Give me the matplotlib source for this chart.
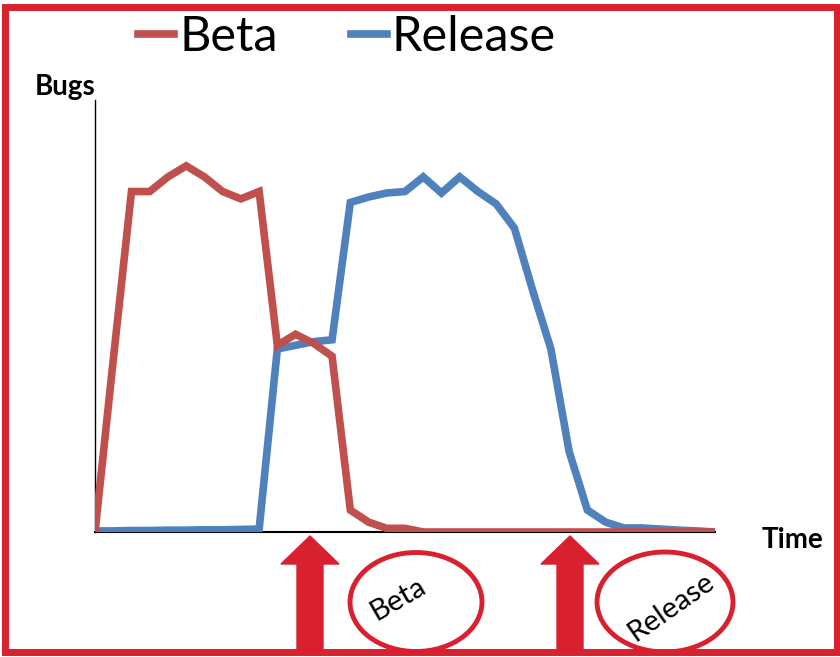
import matplotlib
matplotlib.use("Agg")
import matplotlib.pyplot as plt
from matplotlib import patches

plt.rcParams['font.family'] = ['Lato', 'DejaVu Sans']

# bug counts per time step (peak ~100)
beta = [0, 47, 93, 93, 97, 100, 97, 93, 91, 93, 51, 54, 51.5, 48, 6, 2.7, 1, 1, 0,
        0, 0, 0, 0, 0, 0, 0, 0, 0, 0, 0, 0, 0, 0, 0, 0]
release = [0.3, 0.3, 0.4, 0.4, 0.5, 0.5, 0.6, 0.6, 0.7, 0.8, 50, 51, 52, 52.5, 90, 91.5,
           92.6, 93, 97, 92.6, 97, 93, 89.6, 83, 66, 50, 22, 6, 2.7, 1.1, 1.1, 0.8,
           0.5, 0.3, 0]
t = list(range(len(beta)))
names = ['Beta', 'Release']
colors = ['#C0504D', '#4F81BD']
marks = ['Beta', 'Release']
red = '#D9202E'

W, H = 840, 657
fig = plt.figure(figsize=(W / 100, H / 100), dpi=100)


def fx(x, y):
    return x / W, 1 - y / H


ax = fig.add_axes([95 / W, 1 - 532 / H, 620 / W, 432 / H])
ax.plot(t, release, color=colors[1], lw=5.5, label=names[1], solid_joinstyle='miter', zorder=3)
ax.plot(t, beta, color=colors[0], lw=5.5, label=names[0], solid_joinstyle='miter', zorder=4)
ax.set_xlim(0, len(t) - 1)
ax.set_ylim(0, 118)
ax.set_xticks([])
ax.set_yticks([])
for s in ['top', 'right']:
    ax.spines[s].set_visible(False)
ax.spines['left'].set_linewidth(1)
ax.spines['bottom'].set_linewidth(1.5)

h, l = ax.get_legend_handles_labels()
fig.legend(h[::-1], l[::-1], loc='center', bbox_to_anchor=fx(347, 37), ncol=2,
           frameon=False, fontsize=35, handlelength=0.75, handletextpad=0.1,
           columnspacing=1.5, borderpad=0)

fig.text(*fx(65, 87), 'Bugs', fontsize=20, fontweight='bold', ha='center', va='center')
fig.text(*fx(792, 540), 'Time', fontsize=20, fontweight='bold', ha='center', va='center')

# arrows under the time axis
for cx in (310, 570):
    pts = [(cx - 13, 652), (cx - 13, 564), (cx - 29, 564), (cx, 536),
           (cx + 29, 564), (cx + 13, 564), (cx + 13, 652)]
    fig.patches.append(patches.Polygon([fx(*p) for p in pts], closed=True,
                                       transform=fig.transFigure, color=red, zorder=5))

# circled labels
for (cx, cy, w, hh, rot, tx, ty), txt in zip([(416, 602, 132, 99, 30, 398, 599),
                                              (665, 602, 136, 100, 35, 671, 607)], marks):
    fig.patches.append(patches.Ellipse(fx(cx, cy), w / W, hh / H, transform=fig.transFigure,
                                       fill=False, edgecolor=red, lw=3.5, zorder=5))
    fig.text(*fx(tx, ty), txt, fontsize=21, rotation=rot, ha='center', va='center',
             rotation_mode='anchor')

# red frame
fig.patches.append(patches.Rectangle(fx(5, 652), 832 / W, 645 / H, transform=fig.transFigure,
                                     fill=False, edgecolor=red, lw=5, zorder=6))

fig.savefig('out.png', dpi=100)
